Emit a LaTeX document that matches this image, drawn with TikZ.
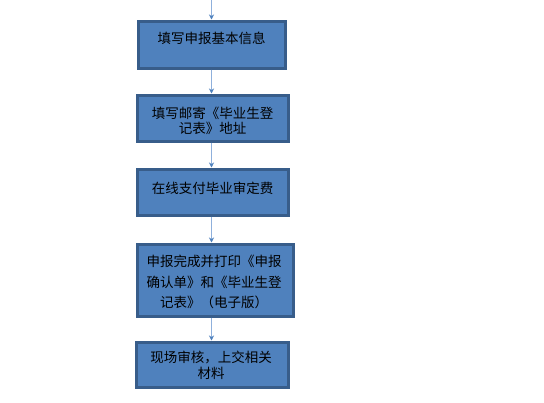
\documentclass[tikz,border=0pt]{standalone}
\usepackage{fontspec}
\newfontfamily\cjk{Noto Sans CJK SC}
\usetikzlibrary{arrows.meta}
\definecolor{boxfill}{HTML}{4F81BD}
\definecolor{boxline}{HTML}{385D8A}
\definecolor{arrowc}{HTML}{8FB0DC}
\tikzset{
  stepbox/.style={draw=boxline, fill=boxfill, line width=3pt, rectangle, inner sep=0pt},
  steptext/.style={font=\cjk\fontsize{13.5}{15}\selectfont, text=black, align=center, inner sep=0pt},
  flow/.style={draw=arrowc, line width=1.6pt, -{Stealth[length=5pt,width=5pt,color=boxfill]}}
}
\begin{document}
\begin{tikzpicture}[x=1pt,y=-1pt]
\useasboundingbox (0,0) rectangle (544,402);
\coordinate (top) at (211.5,0);
\node[stepbox, minimum width=147pt, minimum height=47pt] (b1) at (211.5,44.5) {};
\node[stepbox, minimum width=151pt, minimum height=46pt] (b2) at (212.5,118) {};
\node[stepbox, minimum width=151pt, minimum height=46pt] (b3) at (212.5,192) {};
\node[stepbox, minimum width=156pt, minimum height=72pt] (b4) at (215,280) {};
\node[stepbox, minimum width=152pt, minimum height=45pt] (b5) at (212,364.5) {};

\node[steptext] (t1) at (211.5,38) {填写申报基本信息};
\node[steptext] (t2) at (212.5,120.5) {填写邮寄《毕业生登\\记表》地址};
\node[steptext] (t3) at (212.5,188) {在线支付毕业审定费};
\node[steptext, font=\cjk\fontsize{13.5}{20.5}\selectfont] (t4) at (214,282) {申报完成并打印《申报\\确认单》和《毕业生登\\记表》（电子版）};
\node[steptext, font=\cjk\fontsize{13.5}{16}\selectfont] (t5) at (211,365) {现场审核，上交相关\\材料};

\draw[flow] (top) -- (b1.north -| top);
\draw[flow] (b1.south -| top) -- (b2.north -| top);
\draw[flow] (b2.south -| top) -- (b3.north -| top);
\draw[flow] (b3.south -| top) -- (b4.north -| top);
\draw[flow] (b4.south -| top) -- (b5.north -| top);
\end{tikzpicture}
\end{document}
